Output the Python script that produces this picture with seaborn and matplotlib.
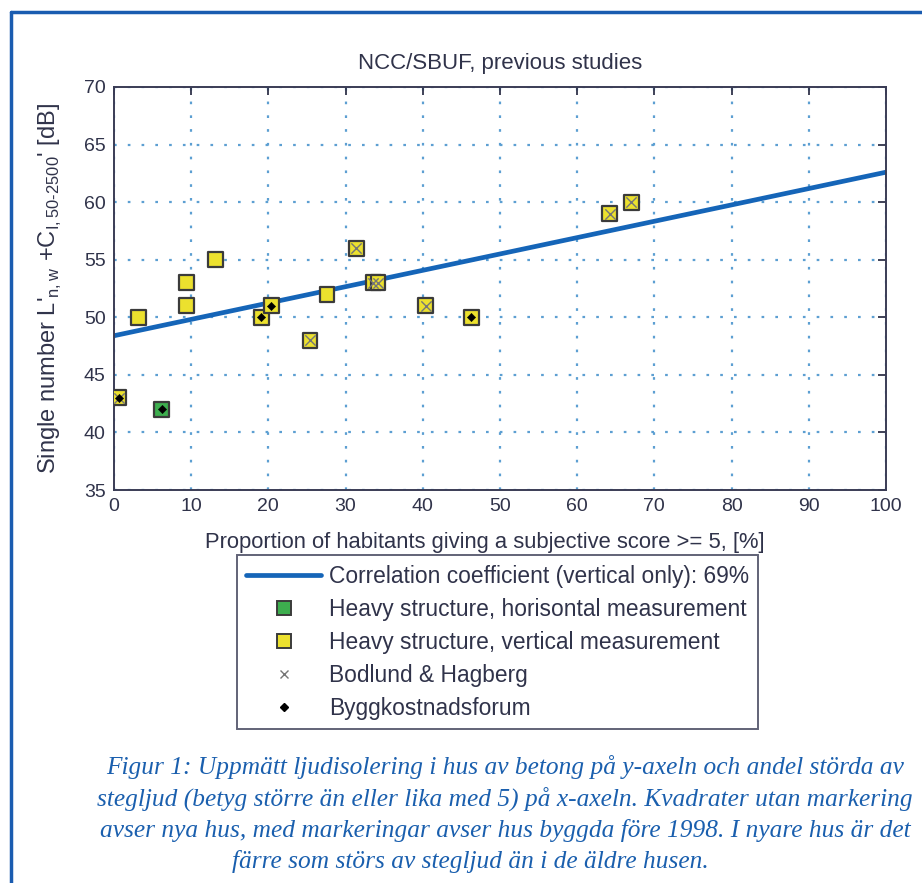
import matplotlib
matplotlib.use("Agg")
import matplotlib.pyplot as plt
import seaborn as sns
import pandas as pd
from matplotlib.lines import Line2D

# Measured houses: x = share of annoyed habitants [%], y = single number [dB]
share_pct = [0.6, 6.2, 3.2, 9.4, 9.4, 13.1, 19.1, 20.4, 25.4, 27.6, 31.4, 33.6, 34.2, 40.4, 46.3, 64.2, 67.0]
level_db = [43, 42, 50, 51, 53, 55, 50, 51, 48, 52, 56, 53, 53, 51, 50, 59, 60]
structure = ['vertical', 'horisontal', 'vertical', 'vertical', 'vertical', 'vertical', 'vertical',
             'vertical', 'vertical', 'vertical', 'vertical', 'vertical', 'vertical', 'vertical',
             'vertical', 'vertical', 'vertical']
bodlund = [True, False, False, False, False, False, False, False, True, False, True, True, True,
           True, False, True, True]
bygg = [True, True, False, False, False, False, True, True, False, False, False, False, False,
        False, True, False, False]

# Regression line (vertical measurements only)
fit_x = [0, 100]
fit_y = [48.4, 62.6]

title = 'NCC/SBUF, previous studies'
xlabel = 'Proportion of habitants giving a subjective score >= 5, [%]'
ylabel = r"Single number L$'_{\rm n,w}$ +C$_{\rm I,50\text{-}2500}$' [dB]"
legend_labels = ['Correlation coefficient (vertical only): 69%',
                 'Heavy structure, horisontal measurement',
                 'Heavy structure, vertical measurement',
                 'Bodlund & Hagberg',
                 'Byggkostnadsforum']
caption_lines = ['Figur 1: Uppmätt ljudisolering i hus av betong på y-axeln och andel störda av',
                 'stegljud (betyg större än eller lika med 5) på x-axeln. Kvadrater utan markering',
                 'avser nya hus, med markeringar avser hus byggda före 1998. I nyare hus är det',
                 'färre som störs av stegljud än i de äldre husen.']

df = pd.DataFrame({'x': share_pct, 'y': level_db, 'structure': structure,
                   'bodlund': bodlund, 'bygg': bygg})
fit = pd.DataFrame({'x': fit_x, 'y': fit_y})

sns.set_style('white')
plt.rcParams['font.family'] = ['Liberation Sans', 'DejaVu Sans']
plt.rcParams['mathtext.fontset'] = 'custom'
plt.rcParams['mathtext.rm'] = 'Liberation Sans'

text_col = '#30334a'
blue = '#1565b8'
fig = plt.figure(figsize=(9.22, 8.83), dpi=100)
ax = fig.add_axes([0.1236, 0.445, 0.8373, 0.4565])

sns.lineplot(data=fit, x='x', y='y', ax=ax, color=blue, lw=3.4, zorder=2)
sns.scatterplot(data=df, x='x', y='y', hue='structure', ax=ax,
                palette={'vertical': '#ece12e', 'horisontal': '#3dae4e'},
                marker='s', s=115, edgecolor='#3b3b3b', linewidth=1.6, zorder=3, legend=False)
sns.scatterplot(data=df[df['bodlund']], x='x', y='y', ax=ax, marker='x', s=55,
                color='#767676', linewidth=1.0, zorder=4, legend=False)
sns.scatterplot(data=df[df['bygg']], x='x', y='y', ax=ax, marker='D', s=18,
                color='black', edgecolor='black', zorder=5, legend=False)

ax.set_xlim(0, 100)
ax.set_ylim(35, 70)
ax.set_xticks(range(0, 101, 10))
ax.set_yticks(range(35, 71, 5))
ax.grid(True, color='#5c9fd2', linestyle=(0, (1.2, 5)), linewidth=1.6)
ax.tick_params(direction='in', top=True, right=True, length=6, width=1.3, color=text_col,
               labelsize=14, labelcolor=text_col, pad=6)
for sp in ax.spines.values():
    sp.set_color('#3a3c55')
    sp.set_linewidth(1.4)
ax.set_title(title, fontsize=16, color=text_col, pad=13)
ax.set_xlabel(xlabel, fontsize=15.8, color=text_col)
ax.xaxis.set_label_coords(0.48, -0.103)
ax.set_ylabel(ylabel, fontsize=17, color=text_col, labelpad=14)

handles = [
    Line2D([], [], color=blue, lw=3.4),
    Line2D([], [], ls='none', marker='s', ms=10, mfc='#3dae4e', mec='#3b3b3b', mew=1.4),
    Line2D([], [], ls='none', marker='s', ms=10, mfc='#ece12e', mec='#3b3b3b', mew=1.4),
    Line2D([], [], ls='none', marker='x', ms=6, color='#767676', mew=1.0),
    Line2D([], [], ls='none', marker='D', ms=4, color='black'),
]
leg = fig.legend(handles, legend_labels, loc='upper left', bbox_to_anchor=(0.257, 0.371),
                 fontsize=16.4, frameon=True, fancybox=False, handlelength=3.3,
                 handletextpad=0.34, labelspacing=0.44, borderpad=0.4, borderaxespad=0)
leg.get_frame().set_edgecolor('#3a3c55')
leg.get_frame().set_linewidth(1.4)
for t in leg.get_texts():
    t.set_color(text_col)

caption_x = [0.548, 0.548, 0.548, 0.51]
caption_y = [0.1314, 0.0952, 0.059, 0.024]
for line, cx, cy in zip(caption_lines, caption_x, caption_y):
    fig.text(cx, cy, line, ha='center', va='center', fontsize=18.3,
             family='Liberation Serif', style='italic', color='#1a5fae')

# blue frame around the figure (left and top edges)
fig.add_artist(Line2D([0.012, 0.012], [0, 0.986], color='#1a5cb0', lw=2.5,
                      transform=fig.transFigure))
fig.add_artist(Line2D([0.012, 1.0], [0.986, 0.986], color='#1a5cb0', lw=2.5,
                      transform=fig.transFigure))

fig.savefig('out.png', dpi=100)
